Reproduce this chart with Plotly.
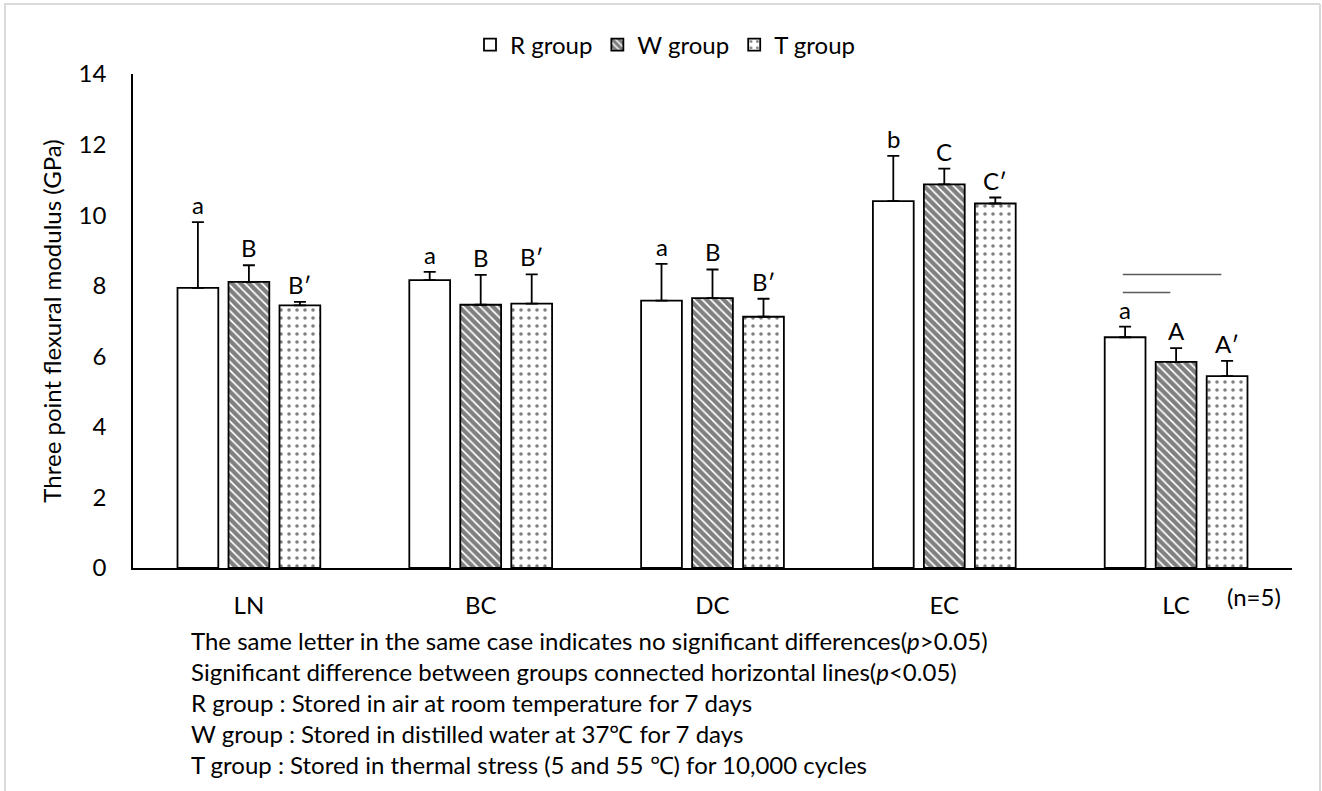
import plotly.graph_objects as go

# ---------------- data ----------------
categories = ["LN", "BC", "DC", "EC", "LC"]
series_names = ["R group", "W group", "T group"]

r_mean = [7.94, 8.16, 7.58, 10.40, 6.54]
r_err = [1.86, 0.23, 1.04, 1.28, 0.30]
w_mean = [8.11, 7.46, 7.65, 10.87, 5.84]
w_err = [0.47, 0.85, 0.81, 0.45, 0.39]
t_mean = [7.44, 7.49, 7.12, 10.33, 5.44]
t_err = [0.10, 0.83, 0.51, 0.17, 0.43]

r_letters = ["a", "a", "a", "b", "a"]
w_letters = ["B", "B", "B", "C", "A"]
t_letters = ["B\u2032", "B\u2032", "B\u2032", "C\u2032", "A\u2032"]

# significance bars in LC: (category, from series, to series, height)
sig_lines = [("LC", 0, 2, 8.32), ("LC", 0, 1, 7.81)]

y_ticks = [0, 2, 4, 6, 8, 10, 12, 14]
y_title = "Three point flexural modulus (GPa)"
n_note = "(n=5)"
footnotes = [
    "The same letter in the same case indicates no significant differences(<i>p</i>>0.05)",
    "Significant difference between groups connected horizontal lines(<i>p</i><0.05)",
    "R group : Stored in air at room temperature for 7 days",
    "W group : Stored in distilled water at 37\u2103 for 7 days",
    "T group : Stored in thermal stress (5 and 55 \u2103) for 10,000 cycles",
]

# ---------------- style ----------------
FONT = "Lato"
FS = 24
W, H = 1322, 791
ML, MR, MT, MB = 133, 30, 74, 223
PW, PH = W - ML - MR, H - MT - MB
BARGAP = 0.34
BARGROUPGAP = 0.2
slot = (1 - BARGAP) / 3
offsets = [(i - 1) * slot for i in range(3)]

means = [r_mean, w_mean, t_mean]
errs = [r_err, w_err, t_err]
letters = [r_letters, w_letters, t_letters]
patterns = [
    dict(shape=""),
    dict(shape="\\", fgcolor="black", bgcolor="white", size=6, solidity=0.7),
    dict(shape=".", fgcolor="black", bgcolor="white", size=8, solidity=0.16),
]

fig = go.Figure()
for i in range(3):
    fig.add_trace(go.Bar(
        name=series_names[i],
        x=categories,
        y=means[i],
        marker=dict(color="white", line=dict(color="black", width=1.8),
                    pattern=patterns[i]),
        error_y=dict(type="data", symmetric=False, array=errs[i],
                     arrayminus=[0] * len(categories),
                     color="black", thickness=1.8, width=6),
    ))

annotations = []
# significance letters
for i in range(3):
    for k, cat in enumerate(categories):
        annotations.append(dict(
            x=k + offsets[i], y=means[i][k] + errs[i][k], xref="x", yref="y",
            text=letters[i][k], showarrow=False, yanchor="bottom", yshift=1,
            font=dict(family=FONT, size=FS, color="black"),
        ))

shapes = []
for cat, a, b, h in sig_lines:
    k = categories.index(cat)
    shapes.append(dict(type="line", xref="x", yref="y",
                       x0=k + offsets[a] - 0.01, x1=k + offsets[b] - 0.025,
                       y0=h, y1=h, line=dict(color="#5a5a5a", width=1.5)))

def px_x(p):
    return (p - ML) / PW

def px_y(p):
    return (H - MB - p) / PH

# footnotes
line_y = [640, 671, 702, 733, 764]
for txt, yy in zip(footnotes, line_y):
    annotations.append(dict(
        x=px_x(189), y=px_y(yy), xref="paper", yref="paper", text=txt,
        showarrow=False, xanchor="left", yanchor="middle",
        font=dict(family=FONT, size=FS, color="black"),
    ))
annotations.append(dict(
    x=px_x(1254), y=px_y(596), xref="paper", yref="paper", text=n_note,
    showarrow=False, xanchor="center", yanchor="middle",
    font=dict(family=FONT, size=FS, color="black"),
))

# outer light-gray frame (top, left, right)
border = dict(color="#d9d9d9", width=2)
shapes += [
    dict(type="line", xref="paper", yref="paper", x0=px_x(4), x1=px_x(1320),
         y0=px_y(4), y1=px_y(4), line=border),
    dict(type="line", xref="paper", yref="paper", x0=px_x(5), x1=px_x(5),
         y0=px_y(4), y1=px_y(791), line=border),
    dict(type="line", xref="paper", yref="paper", x0=px_x(1320), x1=px_x(1320),
         y0=px_y(4), y1=px_y(791), line=border),
]

fig.update_layout(
    width=W, height=H,
    margin=dict(l=ML, r=MR, t=MT, b=MB, autoexpand=False),
    paper_bgcolor="white", plot_bgcolor="white",
    barmode="group", bargap=BARGAP, bargroupgap=BARGROUPGAP,
    font=dict(family=FONT, size=FS, color="black"),
    legend=dict(orientation="h", x=px_x(665), y=px_y(45), xanchor="center",
                yanchor="middle", font=dict(family=FONT, size=FS),
                itemwidth=30, tracegroupgap=0, bgcolor="rgba(0,0,0,0)"),
    showlegend=True,
    annotations=annotations,
    shapes=shapes,
)
fig.update_xaxes(
    showline=True, linecolor="black", linewidth=1.5, showgrid=False,
    ticks="", tickfont=dict(family=FONT, size=FS), ticklabelstandoff=15,
    range=[-0.5, len(categories) - 0.5],
)
fig.update_yaxes(
    range=[0, 14], tickvals=y_ticks, showline=True, linecolor="black",
    linewidth=1.5, showgrid=False, zeroline=False, ticks="",
    tickfont=dict(family=FONT, size=FS), ticklabelstandoff=20,
    title=dict(text=y_title, font=dict(family=FONT, size=FS), standoff=10),
)

fig.write_html("out.html")
